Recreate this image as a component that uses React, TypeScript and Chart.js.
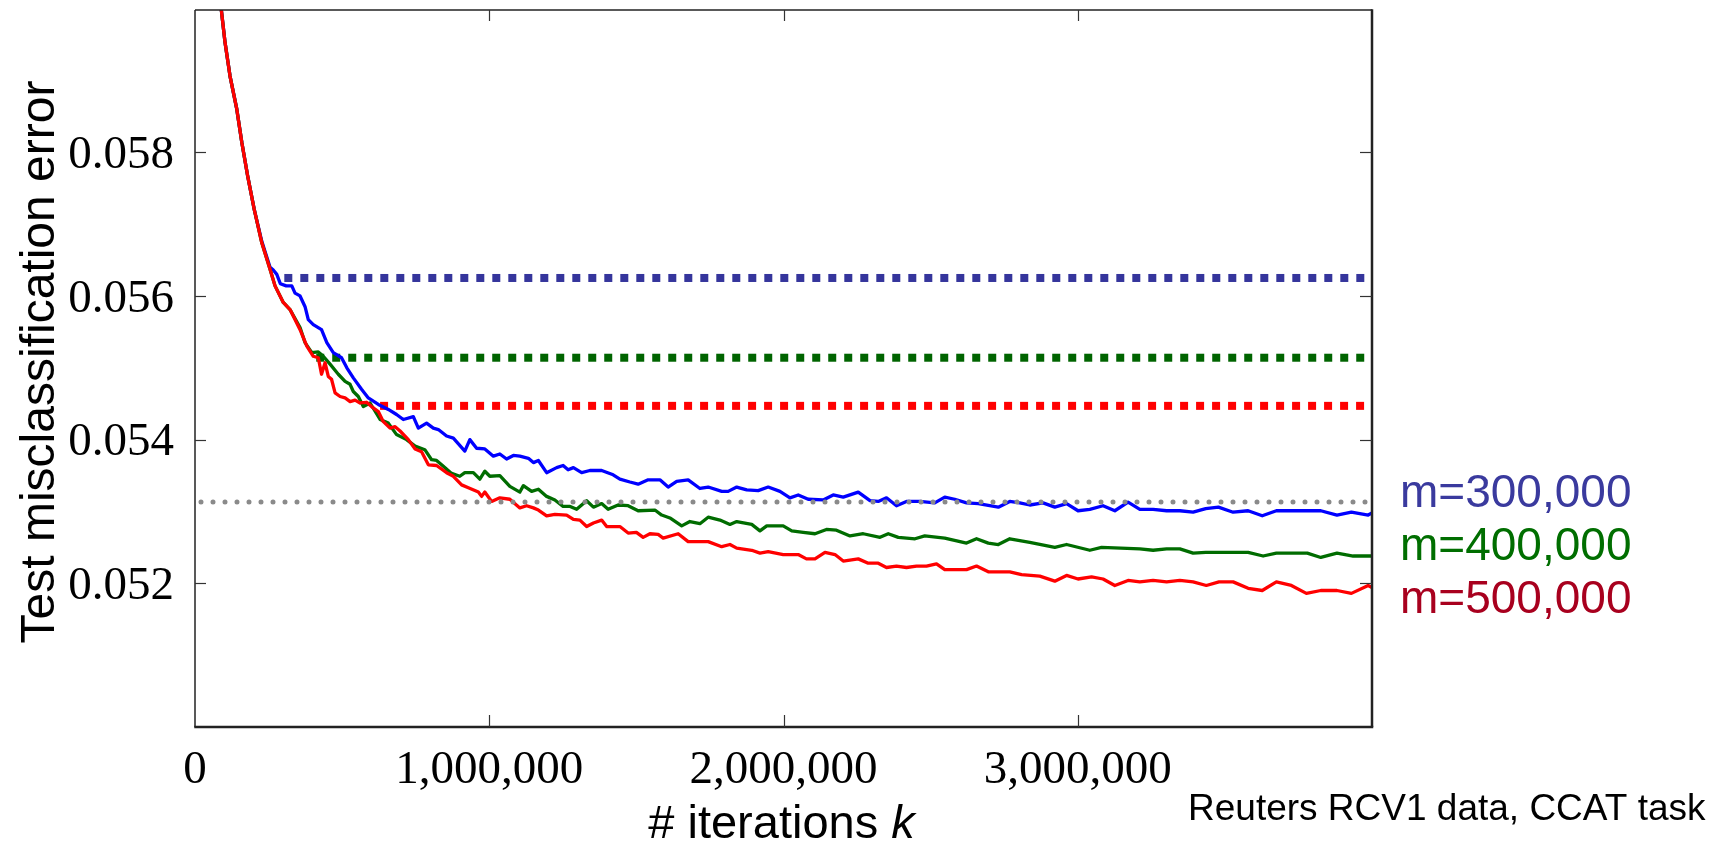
import React, { useEffect, useRef } from 'react';
import { Chart, registerables } from 'chart.js';

Chart.register(...registerables);

// ---------- data ----------
const xTickValues = [0, 1000000, 2000000, 3000000];
const yTickValues = [0.052, 0.054, 0.056, 0.058];
const seriesLabels = ['m=300,000', 'm=400,000', 'm=500,000'];

const kBlue = [85000, 102000, 119000, 142000, 159000, 179000, 201000, 227000, 255000, 266000, 278000, 290000, 310000, 329000, 340000, 357000, 374000, 385000, 402000, 430000, 448000, 470000, 498000, 516000, 538000, 566000, 589000, 623000, 657000, 685000, 708000, 742000, 759000, 787000, 810000, 827000, 855000, 878000, 917000, 934000, 957000, 985000, 1014000, 1036000, 1059000, 1082000, 1104000, 1133000, 1150000, 1167000, 1195000, 1229000, 1251000, 1268000, 1286000, 1314000, 1342000, 1382000, 1421000, 1444000, 1478000, 1506000, 1540000, 1580000, 1608000, 1637000, 1676000, 1716000, 1744000, 1790000, 1812000, 1841000, 1875000, 1914000, 1948000, 1988000, 2022000, 2050000, 2084000, 2135000, 2169000, 2203000, 2254000, 2294000, 2322000, 2350000, 2384000, 2418000, 2463000, 2514000, 2548000, 2582000, 2622000, 2662000, 2730000, 2769000, 2803000, 2837000, 2882000, 2922000, 2962000, 3001000, 3041000, 3086000, 3126000, 3171000, 3211000, 3256000, 3302000, 3347000, 3392000, 3435000, 3478000, 3528000, 3579000, 3627000, 3675000, 3730000, 3826000, 3881000, 3930000, 3987000, 4000000];
const errBlue = [0.06014, 0.05953, 0.05906, 0.0586, 0.05814, 0.05767, 0.05721, 0.05676, 0.0564, 0.05636, 0.0563, 0.05617, 0.05614, 0.05614, 0.05604, 0.056, 0.05585, 0.05567, 0.0556, 0.05553, 0.05535, 0.05521, 0.05514, 0.055, 0.05486, 0.0547, 0.05458, 0.05449, 0.05442, 0.05435, 0.05428, 0.05432, 0.05416, 0.05423, 0.05416, 0.05414, 0.05405, 0.05402, 0.05384, 0.054, 0.05388, 0.05387, 0.05377, 0.0538, 0.05373, 0.05378, 0.05377, 0.05374, 0.05368, 0.05371, 0.05354, 0.05361, 0.05364, 0.05358, 0.05361, 0.05354, 0.05357, 0.05357, 0.05351, 0.05345, 0.05341, 0.05338, 0.05344, 0.05344, 0.05334, 0.05342, 0.05344, 0.05332, 0.05334, 0.05328, 0.05328, 0.05334, 0.0533, 0.05329, 0.05334, 0.05328, 0.05319, 0.05323, 0.05317, 0.05316, 0.05323, 0.0532, 0.05327, 0.05315, 0.05314, 0.05319, 0.05308, 0.05314, 0.05314, 0.05312, 0.0532, 0.05317, 0.05312, 0.05311, 0.05306, 0.05314, 0.05312, 0.05309, 0.05312, 0.05306, 0.05311, 0.05301, 0.05303, 0.05308, 0.05301, 0.05313, 0.05303, 0.05303, 0.05301, 0.05301, 0.05299, 0.05304, 0.05306, 0.05299, 0.05301, 0.05294, 0.05301, 0.05301, 0.05301, 0.05295, 0.05299, 0.05295, 0.05298];

const kGreen = [85000, 102000, 119000, 142000, 159000, 179000, 201000, 227000, 255000, 272000, 300000, 323000, 357000, 374000, 397000, 419000, 436000, 459000, 487000, 510000, 527000, 538000, 555000, 572000, 595000, 629000, 657000, 685000, 719000, 748000, 781000, 804000, 821000, 844000, 872000, 900000, 917000, 946000, 968000, 985000, 1002000, 1036000, 1070000, 1104000, 1116000, 1144000, 1167000, 1195000, 1223000, 1251000, 1275000, 1297000, 1331000, 1354000, 1382000, 1404000, 1438000, 1472000, 1506000, 1563000, 1586000, 1614000, 1654000, 1682000, 1716000, 1744000, 1784000, 1818000, 1841000, 1892000, 1920000, 1943000, 1999000, 2028000, 2067000, 2107000, 2146000, 2180000, 2226000, 2271000, 2328000, 2356000, 2390000, 2447000, 2480000, 2548000, 2622000, 2656000, 2696000, 2730000, 2769000, 2837000, 2922000, 2962000, 3041000, 3081000, 3211000, 3256000, 3302000, 3347000, 3392000, 3435000, 3579000, 3630000, 3675000, 3780000, 3826000, 3881000, 3936000, 4000000];
const errGreen = [0.06014, 0.05953, 0.05906, 0.0586, 0.05814, 0.05767, 0.05721, 0.05674, 0.05637, 0.05614, 0.05591, 0.05581, 0.05556, 0.05535, 0.05521, 0.05522, 0.05516, 0.05505, 0.05491, 0.05481, 0.05477, 0.05467, 0.0546, 0.05446, 0.05451, 0.05428, 0.05423, 0.05407, 0.054, 0.05391, 0.05386, 0.05372, 0.05371, 0.05363, 0.05353, 0.05349, 0.05354, 0.05354, 0.05345, 0.05356, 0.05349, 0.0535, 0.05335, 0.05327, 0.05336, 0.05328, 0.05331, 0.05321, 0.05316, 0.05307, 0.05307, 0.05303, 0.05315, 0.05306, 0.05311, 0.05303, 0.05309, 0.05308, 0.05301, 0.05302, 0.05295, 0.05291, 0.0528, 0.05286, 0.05283, 0.05292, 0.05288, 0.05282, 0.05286, 0.05282, 0.05273, 0.0528, 0.0528, 0.05273, 0.05271, 0.05269, 0.05275, 0.05274, 0.05266, 0.05269, 0.05264, 0.05269, 0.05264, 0.05262, 0.05266, 0.05263, 0.05256, 0.05262, 0.05256, 0.05254, 0.05262, 0.05257, 0.0525, 0.05254, 0.05246, 0.0525, 0.05248, 0.05246, 0.05248, 0.05248, 0.05242, 0.05243, 0.05243, 0.05238, 0.05242, 0.05242, 0.05236, 0.05242, 0.05238, 0.05238];

const kRed = [85000, 102000, 119000, 142000, 159000, 179000, 201000, 227000, 255000, 272000, 300000, 323000, 357000, 380000, 402000, 419000, 430000, 442000, 453000, 464000, 476000, 493000, 510000, 527000, 544000, 561000, 583000, 600000, 623000, 640000, 663000, 680000, 697000, 725000, 748000, 770000, 793000, 821000, 855000, 878000, 906000, 929000, 963000, 974000, 985000, 1008000, 1036000, 1070000, 1104000, 1127000, 1150000, 1167000, 1195000, 1223000, 1263000, 1286000, 1308000, 1331000, 1354000, 1382000, 1399000, 1444000, 1472000, 1500000, 1523000, 1546000, 1574000, 1591000, 1642000, 1676000, 1744000, 1790000, 1818000, 1841000, 1892000, 1920000, 1948000, 1999000, 2050000, 2078000, 2107000, 2141000, 2175000, 2203000, 2254000, 2288000, 2322000, 2350000, 2384000, 2418000, 2452000, 2486000, 2520000, 2548000, 2622000, 2656000, 2696000, 2769000, 2809000, 2871000, 2922000, 2962000, 3001000, 3047000, 3086000, 3126000, 3171000, 3211000, 3256000, 3302000, 3347000, 3392000, 3437000, 3480000, 3528000, 3579000, 3627000, 3675000, 3726000, 3777000, 3826000, 3881000, 3930000, 3987000, 4000000];
const errRed = [0.06014, 0.05953, 0.05906, 0.0586, 0.05814, 0.05767, 0.05721, 0.05674, 0.05637, 0.05614, 0.05591, 0.05581, 0.05553, 0.0553, 0.05516, 0.05514, 0.05491, 0.05507, 0.05488, 0.05484, 0.05465, 0.0546, 0.05458, 0.05453, 0.05455, 0.05451, 0.05452, 0.05446, 0.05439, 0.05425, 0.05416, 0.05418, 0.05412, 0.054, 0.05387, 0.05383, 0.05365, 0.05364, 0.05354, 0.05349, 0.05337, 0.05333, 0.05327, 0.05321, 0.05327, 0.05314, 0.05319, 0.05317, 0.05305, 0.05308, 0.05305, 0.05302, 0.05294, 0.05296, 0.05295, 0.05289, 0.05288, 0.05279, 0.05284, 0.05288, 0.05279, 0.05279, 0.0527, 0.05271, 0.05264, 0.05269, 0.05268, 0.05263, 0.05269, 0.05258, 0.05258, 0.05251, 0.05254, 0.05249, 0.05246, 0.05242, 0.05244, 0.0524, 0.0524, 0.05234, 0.05234, 0.05243, 0.0524, 0.05231, 0.05234, 0.05228, 0.05228, 0.05222, 0.05224, 0.05222, 0.05224, 0.05224, 0.05227, 0.05219, 0.05219, 0.05224, 0.05216, 0.05216, 0.05212, 0.0521, 0.05203, 0.05211, 0.05206, 0.05209, 0.05206, 0.05197, 0.05204, 0.05202, 0.05204, 0.05202, 0.05204, 0.05202, 0.05197, 0.05202, 0.05202, 0.05193, 0.0519, 0.05202, 0.05197, 0.05186, 0.0519, 0.0519, 0.05186, 0.05197, 0.05194];

// horizontal reference levels (dotted) for each m, and the overall best level (grey)
const levelStartK = [303500, 412000, 629000];
const levelErr = [0.05625, 0.05514, 0.05447];
const levelEndK = 4000000;
const bestErr = 0.053132;

const lineColors = ['#0000ff', '#006c00', '#ff0000'];
const levelColors = ['#35359c', '#006400', '#ff0000'];
const labelColors = ['#3a3a9e', '#006e00', '#a8001e'];

const SANS = "'Liberation Sans', Arial, sans-serif";
const SERIF = "'Liberation Serif', 'Times New Roman', serif";

function pts(k: number[], e: number[]) {
  return k.map((v, i) => ({ x: v, y: e[i] }));
}

function fmtInt(v: number) {
  return Math.round(v).toString().replace(/\B(?=(\d{3})+(?!\d))/g, ',');
}

export default function App() {
  const ref = useRef<HTMLCanvasElement | null>(null);

  useEffect(() => {
    const canvas = ref.current;
    if (!canvas) return;

    const frame = {
      id: 'frame',
      afterDatasetsDraw(chart: any) {
        const { ctx, chartArea: a, scales } = chart;
        const x = scales.x;
        const y = scales.y;
        const seg = (x1: number, y1: number, x2: number, y2: number) => {
          ctx.beginPath();
          ctx.moveTo(x1, y1);
          ctx.lineTo(x2, y2);
          ctx.stroke();
        };
        ctx.save();
        ctx.lineCap = 'butt';
        ctx.strokeStyle = '#222';
        ctx.lineWidth = 1.5;
        seg(a.left, a.top, a.left, a.bottom);
        seg(a.left, a.top, a.right, a.top);
        ctx.lineWidth = 2.5;
        seg(a.left - 0.75, a.bottom, a.right + 1.25, a.bottom);
        seg(a.right, a.top - 0.75, a.right, a.bottom);
        ctx.strokeStyle = '#333';
        ctx.lineWidth = 1.2;
        yTickValues.forEach((v) => {
          const py = Math.round(y.getPixelForValue(v)) + 0.5;
          seg(a.left, py, a.left + 11, py);
          seg(a.right - 12, py, a.right, py);
        });
        xTickValues.slice(1).forEach((v) => {
          const px = Math.round(x.getPixelForValue(v)) + 0.5;
          seg(px, a.bottom, px, a.bottom - 12);
          seg(px, a.top, px, a.top + 11);
        });
        ctx.restore();
      },
      afterDraw(chart: any) {
        const { ctx, chartArea: a } = chart;
        ctx.save();
        // y title
        ctx.fillStyle = '#000';
        ctx.font = `48px ${SANS}`;
        ctx.textAlign = 'center';
        ctx.textBaseline = 'alphabetic';
        ctx.translate(54, 362);
        ctx.rotate(-Math.PI / 2);
        ctx.fillText('Test misclassification error', 0, 0);
        ctx.restore();

        ctx.save();
        // x title with italic k
        ctx.fillStyle = '#000';
        ctx.textBaseline = 'alphabetic';
        ctx.textAlign = 'left';
        const p1 = '# iterations ';
        const p2 = 'k';
        ctx.font = `47px ${SANS}`;
        const w1 = ctx.measureText(p1).width;
        ctx.font = `italic 47px ${SANS}`;
        const w2 = ctx.measureText(p2).width;
        const cx = (a.left + a.right) / 2 - 2;
        const sx = cx - (w1 + w2) / 2;
        ctx.font = `47px ${SANS}`;
        ctx.fillText(p1, sx, 838);
        ctx.font = `italic 47px ${SANS}`;
        ctx.fillText(p2, sx + w1, 838);

        // series labels
        ctx.font = `46px ${SANS}`;
        seriesLabels.forEach((t, i) => {
          ctx.fillStyle = labelColors[i];
          ctx.fillText(t, 1400, 507 + i * 53);
        });

        // dataset note
        ctx.fillStyle = '#000';
        ctx.font = `37px ${SANS}`;
        ctx.fillText('Reuters RCV1 data, CCAT task', 1188, 820);
        ctx.restore();
      },
    };

    const datasets: any[] = [];
    // grey best level (top)
    datasets.push({
      data: [{ x: 0, y: bestErr }, { x: levelEndK, y: bestErr }],
      borderColor: '#8a8a8a',
      borderWidth: 5,
      borderDash: [0, 12],
      borderDashOffset: 6,
      borderCapStyle: 'round',
      pointRadius: 0,
      clip: 4,
    });
    const solids = [
      [kRed, errRed, 2],
      [kGreen, errGreen, 1],
      [kBlue, errBlue, 0],
    ] as const;
    solids.forEach(([k, e, ci]) => {
      datasets.push({
        data: pts(k as number[], e as number[]),
        borderColor: lineColors[ci as number],
        borderWidth: 3.3,
        pointRadius: 0,
        tension: 0,
        borderJoinStyle: 'round',
        clip: { left: 0, top: 0, right: 2, bottom: 0 },
      });
    });
    levelErr.forEach((v, i) => {
      datasets.push({
        data: [{ x: levelStartK[i], y: v }, { x: levelEndK, y: v }],
        borderColor: levelColors[i],
        borderWidth: 8,
        borderDash: [8, 8],
        borderCapStyle: 'butt',
        pointRadius: 0,
      });
    });

    const chart = new Chart(canvas, {
      type: 'line',
      data: { datasets },
      options: {
        animation: false,
        responsive: false,
        maintainAspectRatio: false,
        devicePixelRatio: 1,
        parsing: false as any,
        layout: { padding: { top: 10, right: 363, left: 0, bottom: 0 } },
        plugins: { legend: { display: false }, tooltip: { enabled: false } },
        elements: { point: { radius: 0 }, line: { tension: 0 } },
        scales: {
          x: {
            type: 'linear',
            min: 0,
            max: 4000000,
            afterBuildTicks: (s: any) => {
              s.ticks = xTickValues.map((v) => ({ value: v }));
            },
            afterFit: (s: any) => {
              s.height = 118;
              s.paddingLeft = 0;
              s.paddingRight = 0;
            },
            ticks: {
              autoSkip: false,
              maxRotation: 0,
              minRotation: 0,
              padding: 7,
              color: '#000',
              font: { family: SERIF, size: 47 },
              callback: (v: any) => fmtInt(Number(v)),
            },
            grid: { display: false },
            border: { display: false },
          },
          y: {
            type: 'linear',
            min: 0.05,
            max: 0.05998,
            afterBuildTicks: (s: any) => {
              s.ticks = yTickValues.map((v) => ({ value: v }));
            },
            afterFit: (s: any) => {
              s.width = 195;
              s.paddingTop = 0;
              s.paddingBottom = 0;
            },
            ticks: {
              padding: 13,
              labelOffset: 3.5,
              color: '#000',
              font: { family: SERIF, size: 47 },
              callback: (v: any) => Number(v).toFixed(3),
            },
            grid: { display: false },
            border: { display: false },
          },
        },
      } as any,
      plugins: [frame],
    });

    return () => {
      chart.destroy();
    };
  }, []);

  return (
    <div style={{ position: 'fixed', left: 0, top: 0, width: 1735, height: 845, background: '#fff' }}>
      <canvas ref={ref} width={1735} height={845} style={{ width: 1735, height: 845, display: 'block' }} />
    </div>
  );
}
